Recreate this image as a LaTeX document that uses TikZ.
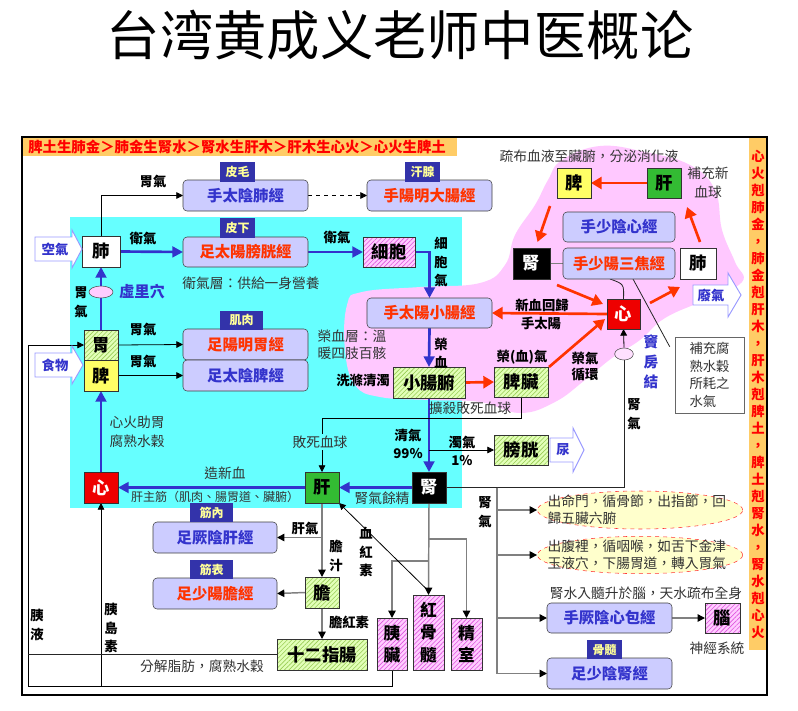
\documentclass[tikz,border=0pt]{standalone}
\usepackage{fontspec}
\setmainfont{Noto Sans CJK TC}
\usetikzlibrary{arrows.meta,patterns.meta,calc,shapes.geometric}
\definecolor{tblue}{HTML}{3333CC}
\definecolor{tred}{HTML}{FF3300}
\definecolor{navy}{HTML}{3333AA}
\definecolor{tagy}{HTML}{FFFF99}
\definecolor{lavb}{HTML}{CCCCFF}
\definecolor{cyanbg}{HTML}{66FFFF}
\definecolor{pinkbg}{HTML}{FFC8FF}
\definecolor{orng}{HTML}{FFCC66}
\definecolor{hred}{HTML}{EE0000}
\definecolor{lgreen}{HTML}{33BB33}
\definecolor{yel}{HTML}{FFFF66}
\definecolor{ghb}{HTML}{E2FFB8}
\definecolor{ghl}{HTML}{99CC55}
\definecolor{phb}{HTML}{FFCCFF}
\definecolor{phl}{HTML}{DD55DD}
\definecolor{ered}{HTML}{FF3333}
\definecolor{ecream}{HTML}{FFFFCC}
\definecolor{arw}{HTML}{9999FF}
\definecolor{lgray}{HTML}{808080}
\pgfdeclarelayer{back}\pgfdeclarelayer{lines}\pgfsetlayers{back,lines,main}
\newcommand\bx[7]{\node[#6, minimum width={(#4-#2)*0.75pt}, minimum height={(#5-#3)*0.75pt}] (#1) at ({(#2+#4)/2},{(#3+#5)/2}) {#7};}
\tikzset{
  lav/.style={draw=black!75, fill=lavb, rounded corners=3pt, inner sep=0, outer sep=0, font=\bfseries\fontsize{11.5}{13}\selectfont},
  tagbox/.style={fill=navy, draw=none, text=tagy, inner sep=0, outer sep=0, font=\bfseries\fontsize{9}{10}\selectfont},
  organ/.style={draw=black!80, inner sep=0, outer sep=0, font=\bfseries\fontsize{13}{15}\selectfont},
  gh/.style={organ, preaction={fill=ghb}, pattern={Lines[angle=45,distance=2.4pt,line width=0.45pt]}, pattern color=ghl},
  ph/.style={organ, preaction={fill=phb}, pattern={Lines[angle=45,distance=2.4pt,line width=0.45pt]}, pattern color=phl},
  lbl/.style={font=\bfseries\fontsize{10}{12}\selectfont, inner sep=1pt},
  vlbl/.style={font=\bfseries\fontsize{10}{14}\selectfont, align=center, inner sep=1pt},
  txt/.style={font=\fontsize{10.3}{14}\selectfont, text=black!80, inner sep=1pt},
  arrowk/.style={draw=black, line width=0.6pt, -{Triangle[length=5pt,width=5pt]}},
  linek/.style={draw=black!85, line width=0.6pt},
  arrowg/.style={draw=lgray, line width=1.1pt, -{Triangle[length=5.5pt,width=5.5pt,black]}},
  lineg/.style={draw=lgray, line width=1.1pt},
  arrowb/.style={draw=tblue, line width=2pt, -{Triangle[length=8pt,width=8pt]}},
  lineb/.style={draw=tblue, line width=2pt},
  arrowr/.style={draw=tred, line width=2pt, -{Triangle[length=8pt,width=9pt]}},
  blockarr/.style={draw=arw, fill=white, line width=0.7pt},
  blocktxt/.style={font=\bfseries\fontsize{10}{12}\selectfont, text=tblue, inner sep=0},
}
\begin{document}
\begin{tikzpicture}[x=0.75pt,y=-0.75pt]
\useasboundingbox (0,0) rectangle (798,710);
\begin{pgfonlayer}{back}
\fill[white] (0,0) rectangle (798,710);
\fill[cyanbg] (70,217) rectangle (462,508);
\fill[pinkbg] plot[smooth cycle, tension=0.7] coordinates {(347,305) (362,292) (420,287) (480,283) (505,265) (515,235) (535,205) (548,180) (562,160) (600,146) (645,152) (690,165) (715,190) (722,230) (735,262) (742,282) (705,300) (665,318) (640,340) (612,358) (585,380) (555,402) (520,413) (480,402) (430,400) (380,397) (355,385) (345,350)};
\fill[orng] (22,137) rectangle (457,156);
\fill[orng] (749,137) rectangle (767,650);
\draw[black, line width=0.8pt] (22,137) rectangle (767,695);
\end{pgfonlayer}

% title and bands
\node[font=\fontsize{40}{44}\selectfont] (title) at (400,35) {台湾黄成义老师中医概论};
\node[font=\bfseries\fontsize{10.8}{12}\selectfont, text=red, anchor=west, inner sep=0] (topline) at (28,146.5) {脾土生肺金＞肺金生腎水＞腎水生肝木＞肝木生心火＞心火生脾土};
\node[font=\bfseries\fontsize{10}{12.75}\selectfont, text=red, align=center, inner sep=0] (rightcol) at (758,394) {心\\火\\剋\\肺\\金\\，\\肺\\金\\剋\\肝\\木\\，\\肝\\木\\剋\\脾\\土\\，\\脾\\土\\剋\\腎\\水\\，\\腎\\水\\剋\\心\\火};

% meridian boxes
\bx{lungm}{183}{180}{308}{211}{lav,text=tblue}{手太陰肺經}
\bx{lim}{367}{180}{492}{211}{lav,text=tred}{手陽明大腸經}
\bx{blm}{183}{237}{308}{267}{lav,text=tred}{足太陽膀胱經}
\bx{stm}{183}{329}{308}{360}{lav,text=tred}{足陽明胃經}
\bx{spm}{183}{360}{308}{391}{lav,text=tblue}{足太陰脾經}
\bx{sim}{367}{298}{492}{328}{lav,text=tred}{手太陽小腸經}
\bx{htm}{563}{212}{675}{242}{lav,text=tblue}{手少陰心經}
\bx{sjm}{563}{248}{675}{279}{lav,text=tred}{手少陽三焦經}
\bx{lvm}{153}{522}{277}{553}{lav,text=tblue}{足厥陰肝經}
\bx{gbm}{153}{578}{277}{609}{lav,text=tred}{足少陽膽經}
\bx{pcm}{547}{603}{672}{633}{lav,text=tblue}{手厥陰心包經}
\bx{kdm}{547}{658}{672}{689}{lav,text=tblue}{足少陰腎經}

% tags
\bx{tag1}{220}{162}{255}{182}{tagbox}{皮毛}
\bx{tag2}{405}{162}{440}{182}{tagbox}{汗腺}
\bx{tag3}{220}{218}{255}{238}{tagbox}{皮下}
\bx{tag4}{220}{311}{263}{330}{tagbox}{肌肉}
\bx{tag5}{190}{503}{233}{522}{tagbox}{筋內}
\bx{tag6}{190}{560}{233}{579}{tagbox}{筋表}
\bx{tag7}{587}{640}{622}{659}{tagbox}{骨髓}

% organs
\bx{lungA}{82}{236}{120}{267}{organ,fill=white}{肺}
\bx{stA}{84}{330}{118}{360}{gh}{胃}
\bx{spA}{84}{360}{118}{391}{organ,fill=yel}{脾}
\bx{htA}{84}{472}{118}{503}{organ,fill=hred,text=white}{心}
\bx{lvA}{305}{472}{339}{503}{organ,fill=lgreen}{肝}
\bx{kdA}{412}{472}{446}{503}{organ,fill=black,text=white}{腎}
\bx{cell}{363}{237}{415}{267}{ph}{細胞}
\bx{sib}{393}{367}{465}{398}{gh}{小腸腑}
\bx{spz}{494}{367}{548}{397}{gh}{脾臟}
\bx{bld}{494}{435}{548}{465}{gh}{膀胱}
\bx{gbA}{305}{577}{339}{608}{gh}{膽}
\bx{duo}{277}{639}{367}{670}{gh}{十二指腸}
\bx{pan}{377}{618}{407}{670}{ph,align=center,font=\bfseries\fontsize{12.5}{17}\selectfont}{胰\\臟}
\bx{rbm}{413}{595}{444}{670}{ph,align=center,font=\bfseries\fontsize{12.5}{17}\selectfont}{紅\\骨\\髓}
\bx{jing}{451}{618}{482}{670}{ph,align=center,font=\bfseries\fontsize{12.5}{17}\selectfont}{精\\室}
\bx{brain}{705}{603}{740}{633}{ph}{腦}
\bx{spB}{557}{168}{591}{198}{organ,fill=yel}{脾}
\bx{lvB}{647}{168}{681}{198}{organ,fill=lgreen}{肝}
\bx{kdB}{513}{248}{550}{279}{organ,fill=black,text=white}{腎}
\bx{luB}{680}{248}{716}{279}{organ,fill=white}{肺}
\bx{htB}{607}{299}{640}{329}{organ,fill=hred,text=white}{心}
\bx{rbox}{675}{337}{744}{413}{draw=black!60,fill=white,inner sep=0,align=left,font=\fontsize{10}{13.3}\selectfont,text=black!80}{補充腐\\熟水穀\\所耗之\\水氣}

% ellipses
\node[ellipse, draw=black!70, fill=phb, minimum width=18pt, minimum height=9pt, inner sep=0] (xuli) at (101,292) {};
\node[ellipse, draw=black!70, fill=phb!60, minimum width=14pt, minimum height=9pt, inner sep=0] (dou) at (624,354) {};
\node[ellipse, draw=ered, dashed, fill=ecream, minimum width=154pt, minimum height=28.5pt, inner sep=0] (e1) at (640,510) {};
\node[ellipse, draw=ered, dashed, fill=ecream, minimum width=154pt, minimum height=28pt, inner sep=0] (e2) at (640,555) {};
\node[txt, align=left, anchor=west, font=\fontsize{10.3}{13}\selectfont] (e1t) at (546,510) {出命門，循骨節，出指節，回\\歸五臟六腑};
\node[txt, align=left, anchor=west, font=\fontsize{10.3}{13}\selectfont] (e2t) at (546,555) {出腹裡，循咽喉，如舌下金津\\玉液穴，下腸胃道，轉入胃氣};

% block arrows
\draw[blockarr] (35,237) -- (72,237) -- (72,230) -- (82,249) -- (72,268) -- (72,261) -- (35,261) -- cycle;
\node[blocktxt] (kongqi) at (55,249) {空氣};
\draw[blockarr] (35,353) -- (72,353) -- (72,346) -- (83,365) -- (72,384) -- (72,377) -- (35,377) -- cycle;
\node[blocktxt] (shiwu) at (55,365) {食物};
\draw[blockarr] (693,285) -- (728,285) -- (728,273) -- (741,295) -- (728,317) -- (728,305) -- (693,305) -- cycle;
\node[blocktxt] (feiqi) at (711,295) {廢氣};
\draw[blockarr] (550,438) -- (573,438) -- (573,428) -- (584,450) -- (573,472) -- (573,462) -- (550,462) -- cycle;
\node[blocktxt] (niao) at (563,450) {尿};

% connectors
\begin{pgfonlayer}{lines}
\draw[arrowk] (lungA.north) |- (lungm.west);
\draw[arrowk, dashed] (lungm.east) -- (lim.west);
\draw[arrowb] (lungA.east) -- (blm.west);
\draw[arrowb] (blm.east) -- (cell.west);
\draw[arrowb] (cell.east) -| (sim.north);
\draw[lineb] (stA.north) -- (xuli.south);
\draw[arrowb] (xuli.north) -- (lungA.south);
\draw[arrowb] (htA.north) -- (spA.south);
\draw[arrowk] (stA.east) -- (stm.west);
\draw[arrowk] (spA.east) -- (spm.west);
\draw[arrowb] (sim.south) -- (sib.north);
\draw[arrowb] (sib.south) -- (kdA.north);
\coordinate (zq) at (sib.south |- bld.west);
\draw[arrowk] (zq) -- (bld.west);
\draw[arrowb] (kdA.west) -- (lvA.east);
\draw[arrowb] (lvA.west) -- (htA.east);
\draw[arrowk] (spz.south) -- ++(0,21) -| (lvA.north);
\draw[arrowr] (sib.east) -- (spz.west);
\draw[arrowr] ([shift={(1,0)}]spz.north east) -- ([shift={(-2,5)}]htB.west);
\draw[arrowr] (htB.west) -- (sim.east);
\draw[arrowr] ([shift={(7,6)}]kdB.south east) -- ([shift={(-4,-10)}]htB.west);
\draw[arrowr] ([shift={(10,4)}]htB.north east) -- ([shift={(0,8)}]luB.south west);
\draw[arrowr] ([shift={(2,-6)}]luB.north) -- ([shift={(23,9)}]lvB.south);
\draw[arrowr] (lvB.west) -- (spB.east);
\draw[arrowr] ([shift={(-24,8)}]spB.south) -- ([shift={(6,-6)}]kdB.north);
\draw[lineg] (kdB.east) -- (sjm.west);
\draw[linek] ([shift={(-9,0)}]sjm.south) .. controls (624,284) .. (htB.north);
\draw[linek] ([shift={(14,0)}]sjm.south) -- ([shift={(-5,10)}]rbox.north west);
\draw[linek] (kdA.east) -| (dou.south);
\draw[arrowk] (dou.north) -- (htB.south);
\coordinate (kj) at (497,487.5);
\draw[arrowg] (kj) |- (e1.west);
\draw[arrowg] (kj) |- (e2.west);
\draw[arrowg] (kj) |- (pcm.west);
\draw[arrowg] (kj) |- (kdm.west);
\draw[arrowg] (pcm.east) -- (brain.west);
\draw[arrowg] (kdA.south) -- (rbm.north);
\coordinate (b1) at (429,539);
\coordinate (b2) at (429,561);
\draw[arrowg] (b1) -| (jing.north);
\draw[arrowg] (b2) -| (pan.north);
\draw[arrowk] ([shift={(-1,-5)}]rbm.north) -- (lvA.south east);
\draw[arrowg] (lvA.south) -- (gbA.north);
\coordinate (lq) at (lvA.south |- lvm.east);
\draw[arrowg] (lq) -- (lvm.east);
\draw[arrowg] (gbA.west) -- (gbm.east);
\draw[arrowg] (gbA.south) -- (duo.north);
\coordinate (pl) at (28,686);
\draw[arrowk] (pan.south) |- (pl) |- (stA.west);
\coordinate (pis) at (htA.south |- pl);
\draw[arrowk] (pis) -- (htA.south);
\coordinate (dl) at (pl |- duo.west);
\draw[linek] (duo.west) -- (dl);
\end{pgfonlayer}

% labels
\node[lbl] (l1) at (153,182) {胃氣};
\node[lbl] (l2) at (143,238) {衛氣};
\node[lbl] (l3) at (337,237) {衛氣};
\node[vlbl] (l4) at (441,262) {細\\胞\\氣};
\node[txt] (l5) at (251,283) {衛氣層：供給一身營養};
\node[lbl, text=tblue, font=\bfseries\fontsize{11.5}{13}\selectfont] (l6) at (142,292) {虛里穴};
\node[vlbl] (l7) at (81,302) {胃\\氣};
\node[lbl] (l8) at (143,330) {胃氣};
\node[lbl] (l9) at (143,362) {胃氣};
\node[txt, align=left, anchor=north west, font=\fontsize{10.3}{13}\selectfont] (l10) at (316,328) {榮血層：溫\\暖四肢百骸};
\node[vlbl] (l11) at (441,353) {榮\\血};
\node[lbl] (l12) at (363,380) {洗滌清濁};
\node[lbl] (l13) at (522,357) {榮(血)氣};
\node[lbl] (l14) at (542,305) {新血回歸};
\node[lbl] (l15) at (541,323) {手太陽};
\node[vlbl, font=\bfseries\fontsize{10}{12}\selectfont] (l16) at (585,366) {榮氣\\循環};
\node[vlbl, text=tblue, font=\bfseries\fontsize{11}{15}\selectfont] (l17) at (651,362) {竇\\房\\結};
\node[vlbl] (l18) at (634,414) {腎\\氣};
\node[txt] (l19) at (470,408) {擴殺敗死血球};
\node[txt, fill=cyanbg] (l20) at (320,442) {敗死血球};
\node[txt, align=left, anchor=west] (l21) at (108,432) {心火助胃\\腐熟水穀};
\node[vlbl] (l22) at (408,444) {清氣\\99\%};
\node[vlbl] (l23) at (462,451) {濁氣\\1\%};
\node[txt] (l24) at (225,473) {造新血};
\node[txt, font=\fontsize{9}{10}\selectfont] (l25) at (215,497) {肝主筋（肌肉、腸胃道、臟腑）};
\node[txt] (l26) at (382,498) {腎氣餘精};
\node[vlbl] (l27) at (485,512) {腎\\氣};
\node[lbl] (l28) at (305,528) {肝氣};
\node[vlbl] (l29) at (336,556) {膽\\汁};
\node[vlbl] (l30) at (366,552) {血\\紅\\素};
\node[lbl] (l31) at (349,622) {膽紅素};
\node[vlbl] (l32) at (37,625) {胰\\液};
\node[vlbl] (l33) at (111,628) {胰\\島\\素};
\node[txt] (l34) at (202,666) {分解脂肪，腐熟水穀};
\node[txt] (l35) at (589,156) {疏布血液至臟腑，分泌消化液};
\node[txt, align=center] (l36) at (708,183) {補充新\\血球};
\node[txt] (l37) at (646,593) {腎水入髓升於腦，天水疏布全身};
\node[txt] (l38) at (717,648) {神經系統};
\end{tikzpicture}
\end{document}
